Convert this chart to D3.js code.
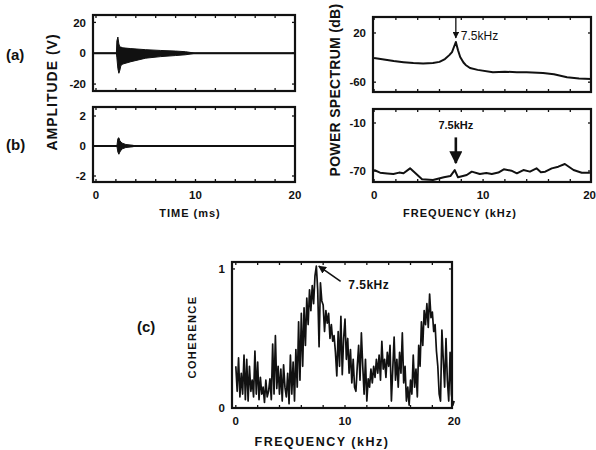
<!doctype html>
<html>
<head>
<meta charset="utf-8">
<style>
    body { margin: 0; background: #fff; }
    text { font-family: "Liberation Sans", Arial, sans-serif; fill: #111; }
    .tick { font-size: 11.5px; font-weight: bold; }
    .title { font-weight: bold; }
</style>
</head>
<body>
<div id="chart"></div>
<script src="https://d3js.org/d3.v7.min.js"></script>
<script>

// (a) time signal - envelope of the dense ringing, volts
var timeA  = [0, 2.05, 2.1, 2.2, 2.3, 2.4, 2.5, 2.7, 3.5, 5, 6.5, 8, 9, 10, 20];
var upperA = [0, 0, 8, 10.5, 6, 4, 4, 3.5, 3, 2.3, 1.8, 1.4, 1.0, 0, 0];
var lowerA = [0, 0, -3, -10, -13, -11, -8, -7, -5.5, -3.2, -2.2, -1.5, -1.0, 0, 0];

// (b) time signal envelope
var timeB  = [0, 2.1, 2.2, 2.3, 2.4, 2.6, 3.0, 3.7, 4, 20];
var upperB = [0, 0, 0.5, 0.55, 0.35, 0.2, 0.1, 0.05, 0, 0];
var lowerB = [0, 0, -0.4, -0.55, -0.4, -0.2, -0.1, -0.05, 0, 0];

// (a) power spectrum, dB
var specAf  = [0, 0.9, 1.8, 2.7, 3.6, 4.5, 5.4, 6.0, 6.5, 6.9, 7.15, 7.3, 7.5, 7.7, 7.9, 8.2, 8.4, 8.8, 9.5, 10.9, 12, 13.1, 14, 15.5, 16.5, 17.7, 18.8, 19.9];
var specAdb = [-20.8, -23, -25.7, -27.5, -29, -29.5, -29, -27, -22.5, -16, -11, -4, 5.3, -8, -19, -28, -32, -37, -40, -43.7, -43, -43.7, -44, -45, -47, -52, -54, -55];

// (b) power spectrum, dB
var specBf  = [0, 0.55, 1.2, 1.77, 2.3, 2.7, 3.3, 3.8, 4.4, 5.4, 6.4, 7.0, 7.4, 7.7, 8.5, 8.96, 9.7, 10.3, 10.8, 11.4, 11.9, 12.6, 13.1, 13.7, 14.3, 14.9, 15.3, 15.7, 16.3, 16.9, 17.5, 18.3, 19.05, 19.8];
var specBdb = [-68.8, -72.1, -73, -73.8, -72, -72.9, -66.7, -72.9, -80.4, -81.3, -77.9, -76.3, -68.8, -77.9, -75, -70.8, -73.8, -72.5, -73.8, -72, -67.9, -69.6, -72.9, -68.8, -70.8, -66.7, -71.5, -70.8, -66.7, -64.6, -61.3, -68.8, -72.1, -72.1];

// (c) coherence, one value every 0.125 kHz from 0 to 20 kHz
var cohStep = 0.125;
var coherence = [
    0.30, 0.12, 0.36, 0.08, 0.25, 0.10, 0.38, 0.06,
    0.35, 0.05, 0.30, 0.12, 0.20, 0.08, 0.41, 0.10,
    0.33, 0.06, 0.22, 0.10, 0.15, 0.04, 0.20, 0.08,
    0.12, 0.21, 0.06, 0.46, 0.10, 0.52, 0.14, 0.30,
    0.10, 0.28, 0.05, 0.31, 0.15, 0.08, 0.25, 0.03,
    0.38, 0.10, 0.33, 0.05, 0.42, 0.15, 0.62, 0.20,
    0.68, 0.30, 0.72, 0.45, 0.79, 0.60, 0.85, 0.70,
    0.88, 0.75, 0.95, 1.02, 0.85, 0.44, 0.90, 0.77,
    0.74, 0.55, 0.70, 0.61, 0.68, 0.50, 0.60, 0.48,
    0.52, 0.40, 0.23, 0.55, 0.30, 0.66, 0.24, 0.50,
    0.64, 0.35, 0.50, 0.25, 0.42, 0.18, 0.35, 0.15,
    0.12, 0.30, 0.45, 0.20, 0.54, 0.30, 0.10, 0.35,
    0.05, 0.21, 0.15, 0.28, 0.18, 0.30, 0.22, 0.35,
    0.25, 0.38, 0.20, 0.48, 0.28, 0.35, 0.22, 0.40,
    0.30, 0.45, 0.05, 0.28, 0.51, 0.20, 0.35, 0.15,
    0.40, 0.25, 0.54, 0.18, 0.30, 0.05, 0.15, 0.02,
    0.20, 0.10, 0.38, 0.15, 0.28, 0.08, 0.45, 0.30,
    0.62, 0.45, 0.70, 0.60, 0.75, 0.58, 0.82, 0.65,
    0.69, 0.55, 0.60, 0.41, 0.30, 0.10, 0.05, 0.56,
    0.35, 0.15, 0.50, 0.20, 0.05, 0.40, 0.10, 0.02,
    0.05
];

var xTicks = [0, 10, 20];

var svg = d3.select("#chart").append("svg")
    .attr("width", 596)
    .attr("height", 450);

// draws a framed panel, returns its scales
function panel(box, xdom, ydom, yticks, showX) {
    var x = d3.scaleLinear().domain(xdom).range([box.x0, box.x1]);
    var y = d3.scaleLinear().domain(ydom).range([box.y1, box.y0]);
    var g = svg.append("g");

    g.append("rect")
        .attr("x", box.x0).attr("y", box.y0)
        .attr("width", box.x1 - box.x0).attr("height", box.y1 - box.y0)
        .attr("fill", "none").attr("stroke", "#111").attr("stroke-width", 2.2);

    // small inward ticks all round
    d3.range(0, 20.1, 2).forEach(function(v) {
        if (x(v) < box.x0 || x(v) > box.x1) return;
        g.append("line").attr("x1", x(v)).attr("x2", x(v)).attr("y1", box.y1).attr("y2", box.y1 - 3)
            .attr("stroke", "#111").attr("stroke-width", 1.3);
        g.append("line").attr("x1", x(v)).attr("x2", x(v)).attr("y1", box.y0).attr("y2", box.y0 + 3)
            .attr("stroke", "#111").attr("stroke-width", 1.3);
    });
    yticks.forEach(function(v) {
        g.append("line").attr("x1", box.x0).attr("x2", box.x0 + 3).attr("y1", y(v)).attr("y2", y(v))
            .attr("stroke", "#111").attr("stroke-width", 1.3);
        g.append("line").attr("x1", box.x1).attr("x2", box.x1 - 3).attr("y1", y(v)).attr("y2", y(v))
            .attr("stroke", "#111").attr("stroke-width", 1.3);
        g.append("text").attr("class", "tick")
            .attr("x", box.x0 - 7).attr("y", y(v)).attr("dy", "0.36em")
            .attr("text-anchor", "end")
            .text(v);
    });
    if (showX) {
        xTicks.forEach(function(v) {
            var tx = x(v), anchor = "middle";
            if (tx + 8 > 596) { tx = 596; anchor = "end"; }
            g.append("text").attr("class", "tick")
                .attr("x", tx).attr("y", box.y1 + 17)
                .attr("text-anchor", anchor)
                .text(v);
        });
    }
    return {x: x, y: y, g: g};
}

function envelope(p, t, up, lo) {
    p.g.append("line")
        .attr("x1", p.x.range()[0]).attr("x2", p.x.range()[1])
        .attr("y1", p.y(0)).attr("y2", p.y(0))
        .attr("stroke", "#111").attr("stroke-width", 2);
    var rows = t.map(function(d, i) { return {t: d, u: up[i], l: lo[i]}; });
    p.g.append("path")
        .datum(rows)
        .attr("fill", "#111").attr("stroke", "#111").attr("stroke-width", 1)
        .attr("d", d3.area()
            .x(function(d) { return p.x(d.t); })
            .y0(function(d) { return p.y(d.l); })
            .y1(function(d) { return p.y(d.u); }));
}

function curve(p, xs, ys, w) {
    p.g.append("path")
        .datum(xs.map(function(d, i) { return [d, ys[i]]; }))
        .attr("fill", "none").attr("stroke", "#111").attr("stroke-width", w)
        .attr("stroke-linejoin", "round")
        .attr("d", d3.line()
            .x(function(d) { return p.x(d[0]); })
            .y(function(d) { return p.y(d[1]); }));
}

// left column
var pa = panel({x0: 93, x1: 295, y0: 15, y1: 91}, [-0.3, 20], [-24.5, 24.8], [20, 0, -20], false);
envelope(pa, timeA, upperA, lowerA);
var pb = panel({x0: 93, x1: 295, y0: 107, y1: 182}, [-0.3, 20], [-2.4, 2.6], [2, 0, -2], true);
envelope(pb, timeB, upperB, lowerB);

// right column
var pc = panel({x0: 373, x1: 591, y0: 17, y1: 92}, [-0.1, 19.9], [-76, 46], [20, -60], false);
curve(pc, specAf, specAdb, 2);
var pd = panel({x0: 373, x1: 591, y0: 109, y1: 182}, [-0.1, 19.9], [-83.75, 7.5], [-10, -70], true);
curve(pd, specBf, specBdb, 2);

// coherence
var pe = panel({x0: 232, x1: 452, y0: 262, y1: 408}, [-0.35, 19.8], [0, 1.05], [1, 0], true);
curve(pe, coherence.map(function(d, i) { return i * cohStep; }), coherence, 1.7);

// annotations: 7.5kHz arrows
svg.append("defs").append("marker")
    .attr("id", "head").attr("viewBox", "0 0 10 10")
    .attr("refX", 9).attr("refY", 5)
    .attr("markerWidth", 5).attr("markerHeight", 5)
    .attr("orient", "auto")
    .append("path").attr("d", "M0,0L10,5L0,10z").attr("fill", "#111");

svg.append("line")
    .attr("x1", pc.x(7.5)).attr("x2", pc.x(7.5))
    .attr("y1", 17).attr("y2", pc.y(12))
    .attr("stroke", "#111").attr("stroke-width", 1.3)
    .attr("marker-end", "url(#head)");
svg.append("text")
    .attr("x", pc.x(7.5) + 5).attr("y", pc.y(16)).attr("dy", "0.36em")
    .attr("font-size", "12px")
    .text("7.5kHz");

svg.append("line")
    .attr("x1", pd.x(7.5)).attr("x2", pd.x(7.5))
    .attr("y1", pd.y(-28)).attr("y2", pd.y(-60))
    .attr("stroke", "#111").attr("stroke-width", 2.6)
    .attr("marker-end", "url(#head)");
svg.append("text")
    .attr("x", pd.x(7.5)).attr("y", pd.y(-13)).attr("dy", "0.36em")
    .attr("text-anchor", "middle")
    .attr("font-size", "11px").attr("font-weight", "bold")
    .text("7.5kHz");

svg.append("line")
    .attr("x1", pe.x(9.6)).attr("x2", pe.x(7.6))
    .attr("y1", pe.y(0.91)).attr("y2", pe.y(1.02))
    .attr("stroke", "#111").attr("stroke-width", 1.6)
    .attr("marker-end", "url(#head)");
svg.append("text")
    .attr("x", pe.x(10.3)).attr("y", pe.y(0.89)).attr("dy", "0.36em")
    .attr("font-size", "12px").attr("font-weight", "bold")
    .attr("letter-spacing", "0.5px")
    .text("7.5kHz");

// axis titles and panel letters
svg.append("text").attr("class", "title")
    .attr("x", 190).attr("y", 217).attr("text-anchor", "middle")
    .attr("font-size", "11px").attr("letter-spacing", "1px")
    .text("TIME (ms)");
svg.append("text").attr("class", "title")
    .attr("x", 460).attr("y", 217).attr("text-anchor", "middle")
    .attr("font-size", "11px").attr("letter-spacing", "1px")
    .text("FREQUENCY (kHz)");
svg.append("text").attr("class", "title")
    .attr("x", 322).attr("y", 446).attr("text-anchor", "middle")
    .attr("font-size", "12.5px").attr("letter-spacing", "1.5px")
    .text("FREQUENCY (kHz)");

svg.append("text").attr("class", "title")
    .attr("transform", "translate(57,92) rotate(-90)")
    .attr("text-anchor", "middle")
    .attr("font-size", "14px").attr("letter-spacing", "1px")
    .text("AMPLITUDE (V)");
svg.append("text").attr("class", "title")
    .attr("transform", "translate(340,90) rotate(-90)")
    .attr("text-anchor", "middle")
    .attr("font-size", "14px").attr("letter-spacing", "0.3px")
    .text("POWER SPECTRUM (dB)");
svg.append("text").attr("class", "title")
    .attr("transform", "translate(196,337) rotate(-90)")
    .attr("text-anchor", "middle")
    .attr("font-size", "11px").attr("letter-spacing", "1.4px")
    .text("COHERENCE");

svg.append("text").attr("class", "title").attr("x", 6).attr("y", 60).attr("font-size", "15px").text("(a)");
svg.append("text").attr("class", "title").attr("x", 6).attr("y", 150).attr("font-size", "15px").text("(b)");
svg.append("text").attr("class", "title").attr("x", 137).attr("y", 332).attr("font-size", "15px").text("(c)");

</script>
</body>
</html>
